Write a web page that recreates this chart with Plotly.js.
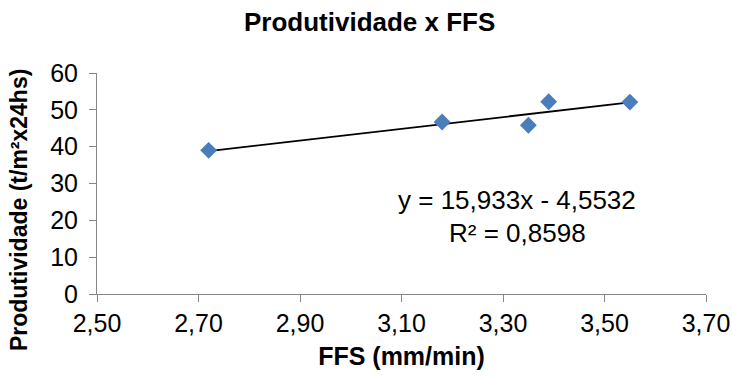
<!DOCTYPE html>
<html><head><meta charset="utf-8">
<script src="https://cdn.plot.ly/plotly-3.0.1.min.js"></script>
<style>body{margin:0;background:#fff}#chart{width:732px;height:378px}</style>
</head><body><div id="chart"></div>
<script>
const ffs = [2.72, 3.18, 3.35, 3.39, 3.55];
const produtividade = [39.0, 46.7, 45.8, 52.2, 52.1];
const trendSlope = 15.933;
const trendIntercept = -4.5532;
const rSquared = 0.8598;
const xTickVals = [2.5, 2.7, 2.9, 3.1, 3.3, 3.5, 3.7];
const yTickVals = [0, 10, 20, 30, 40, 50, 60];

const trendX = [Math.min(...ffs), Math.max(...ffs)];
const trendY = trendX.map(x => trendSlope * x + trendIntercept);
const fmt = (v, d) => v.toFixed(d).replace('.', ',');
const axisColor = '#868686';
const font = 'Liberation Sans, Arial, sans-serif';

const traces = [
  {x: trendX, y: trendY, mode: 'lines', line: {color: '#000000', width: 1.8}, hoverinfo: 'skip'},
  {x: ffs, y: produtividade, mode: 'markers', marker: {symbol: 'diamond', size: 13, color: '#4A7EBB'}}
];
const layout = {
  width: 732, height: 378,
  margin: {l: 97, r: 26, t: 73, b: 84},
  paper_bgcolor: '#fff', plot_bgcolor: '#fff',
  showlegend: false,
  separators: ',.',
  font: {family: font, size: 26, color: '#000'},
  title: {text: '<b>Produtividade x FFS</b>', font: {family: font, size: 26, color: '#000'}, x: 0.505, xanchor: 'center', y: 0.942, yanchor: 'middle'},
  xaxis: {
    range: [2.5, 3.7], tickvals: xTickVals, ticktext: xTickVals.map(v => fmt(v, 2)),
    showgrid: false, zeroline: false, showline: true, linecolor: axisColor, linewidth: 1,
    ticks: 'outside', ticklen: 7, tickcolor: axisColor,
    tickfont: {family: font, size: 25, color: '#000'},
    title: {text: '<b>FFS (mm/min)</b>', font: {family: font, size: 25, color: '#000'}, standoff: 11}
  },
  yaxis: {
    range: [0, 60], tickvals: yTickVals,
    showgrid: false, zeroline: false, showline: true, linecolor: axisColor, linewidth: 1,
    ticks: 'outside', ticklen: 7, tickcolor: axisColor,
    tickfont: {family: font, size: 25, color: '#000'},
    ticklabelstandoff: 6
  },
  annotations: [
    {xref: 'paper', yref: 'paper', x: -0.128, y: 0.38, xanchor: 'center', yanchor: 'middle', textangle: -90,
     showarrow: false, text: '<b>Produtividade (t/m²x24hs)</b>', font: {family: font, size: 23, color: '#000'}},
    {xref: 'paper', yref: 'paper', x: 0.69, y: 0.425, xanchor: 'center', yanchor: 'middle', showarrow: false,
     borderpad: 0, text: 'y = ' + fmt(trendSlope, 3) + 'x - ' + fmt(Math.abs(trendIntercept), 4),
     font: {family: font, size: 26, color: '#000'}},
    {xref: 'paper', yref: 'paper', x: 0.69, y: 0.276, xanchor: 'center', yanchor: 'middle', showarrow: false,
     borderpad: 0, text: 'R² = ' + fmt(rSquared, 4),
     font: {family: font, size: 26, color: '#000'}}
  ]
};
Plotly.newPlot('chart', traces, layout, {staticPlot: true, displayModeBar: false});
</script></body></html>
